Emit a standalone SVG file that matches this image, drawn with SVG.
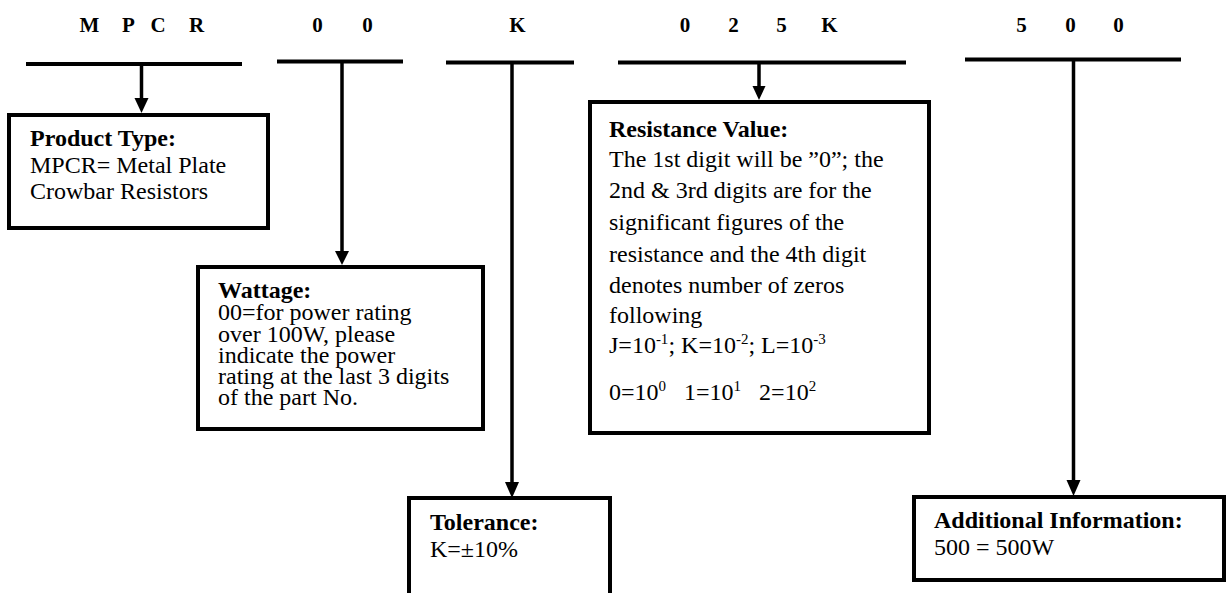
<svg xmlns="http://www.w3.org/2000/svg" width="1227" height="593" viewBox="0 0 1227 593">
<defs>
<style>
.hdr{font-family:"Liberation Serif","Times New Roman",serif;font-weight:bold;font-size:21px;fill:#000;text-anchor:middle}
.t{font-family:"Liberation Serif","Times New Roman",serif;font-size:24px;fill:#000}
.b{font-weight:bold}
.box{fill:#fff;stroke:#000;stroke-width:4}
.bar{stroke:#000;stroke-width:4;fill:none}
.ln{stroke:#000;stroke-width:3.5;fill:none}
.sup{font-size:15px}
</style>
<marker id="ah" viewBox="0 0 14 14" refX="7" refY="14" markerWidth="14" markerHeight="14" markerUnits="userSpaceOnUse" orient="auto-start-reverse">
<path d="M0,0 L14,0 L7,14 Z" fill="#000"/>
</marker>
</defs>
<g id="header">
<text class="hdr" x="89.5" y="32">M</text>
<text class="hdr" x="128.5" y="32">P</text>
<text class="hdr" x="158" y="32">C</text>
<text class="hdr" x="196.5" y="32">R</text>
<text class="hdr" x="317.5" y="32">0</text>
<text class="hdr" x="367.5" y="32">0</text>
<text class="hdr" x="517.5" y="32">K</text>
<text class="hdr" x="685" y="32">0</text>
<text class="hdr" x="733.5" y="32">2</text>
<text class="hdr" x="781.5" y="32">5</text>
<text class="hdr" x="829.5" y="32">K</text>
<text class="hdr" x="1021.5" y="32">5</text>
<text class="hdr" x="1070.5" y="32">0</text>
<text class="hdr" x="1118.5" y="32">0</text>
</g>
<g id="connectors">
<line class="bar" x1="26" y1="64" x2="242" y2="64"/>
<line class="bar" x1="277" y1="61.5" x2="403" y2="61.5"/>
<line class="bar" x1="446" y1="62.5" x2="574" y2="62.5"/>
<line class="bar" x1="618" y1="62.5" x2="906" y2="62.5"/>
<line class="bar" x1="965" y1="59.5" x2="1181" y2="59.5"/>
<line class="ln" x1="141.5" y1="64" x2="141.5" y2="98"/>
<path d="M134.5,98 L148.5,98 L141.5,113 Z"/>
<line class="ln" x1="342" y1="62" x2="342" y2="251"/>
<path d="M335,251 L349,251 L342,265 Z"/>
<line class="ln" x1="512" y1="63" x2="512" y2="483"/>
<path d="M505,482 L519,482 L512,498 Z"/>
<line class="ln" x1="759" y1="63" x2="759" y2="86"/>
<path d="M752.5,86 L765.5,86 L759,100 Z"/>
<line class="ln" x1="1073.5" y1="60" x2="1073.5" y2="481"/>
<path d="M1066.5,480 L1080.5,480 L1073.5,496 Z"/>
</g>
<g id="product-type">
<rect class="box" x="9" y="115" width="259" height="113"/>
<text class="t b" x="30" y="146">Product Type:</text>
<text class="t" x="30" y="173">MPCR= Metal Plate</text>
<text class="t" x="30" y="199">Crowbar Resistors</text>
</g>
<g id="wattage">
<rect class="box" x="198" y="267" width="285" height="162"/>
<text class="t b" x="218" y="298">Wattage:</text>
<text class="t" x="218" y="320">00=for power rating</text>
<text class="t" x="218" y="342">over 100W, please</text>
<text class="t" x="218" y="363">indicate the power</text>
<text class="t" x="218" y="384">rating at the last 3 digits</text>
<text class="t" x="218" y="405">of the part No.</text>
</g>
<g id="resistance-value">
<rect class="box" x="590" y="102" width="339" height="331"/>
<text class="t b" x="609" y="137">Resistance Value:</text>
<text class="t" x="609" y="167">The 1st digit will be ”0”; the</text>
<text class="t" x="609" y="198">2nd &amp; 3rd digits are for the</text>
<text class="t" x="609" y="230">significant figures of the</text>
<text class="t" x="609" y="262">resistance and the 4th digit</text>
<text class="t" x="609" y="293">denotes number of zeros</text>
<text class="t" x="609" y="323">following</text>
<text class="t" x="609" y="353">J=10<tspan class="sup" dy="-9">-1</tspan><tspan dy="9">; K=10</tspan><tspan class="sup" dy="-9">-2</tspan><tspan dy="9">; L=10</tspan><tspan class="sup" dy="-9">-3</tspan></text>
<text class="t" x="609" y="400">0=10<tspan class="sup" dy="-9">0</tspan><tspan dy="9" xml:space="preserve">   1=10</tspan><tspan class="sup" dy="-9">1</tspan><tspan dy="9" xml:space="preserve">   2=10</tspan><tspan class="sup" dy="-9">2</tspan></text>
</g>
<g id="tolerance">
<rect class="box" x="409" y="498" width="201" height="120"/>
<text class="t b" x="430" y="530">Tolerance:</text>
<text class="t" x="430" y="557">K=±10%</text>
</g>
<g id="additional-information">
<rect class="box" x="914" y="497" width="310" height="83"/>
<text class="t b" x="934" y="528">Additional Information:</text>
<text class="t" x="934" y="555">500 = 500W</text>
</g>
</svg>
